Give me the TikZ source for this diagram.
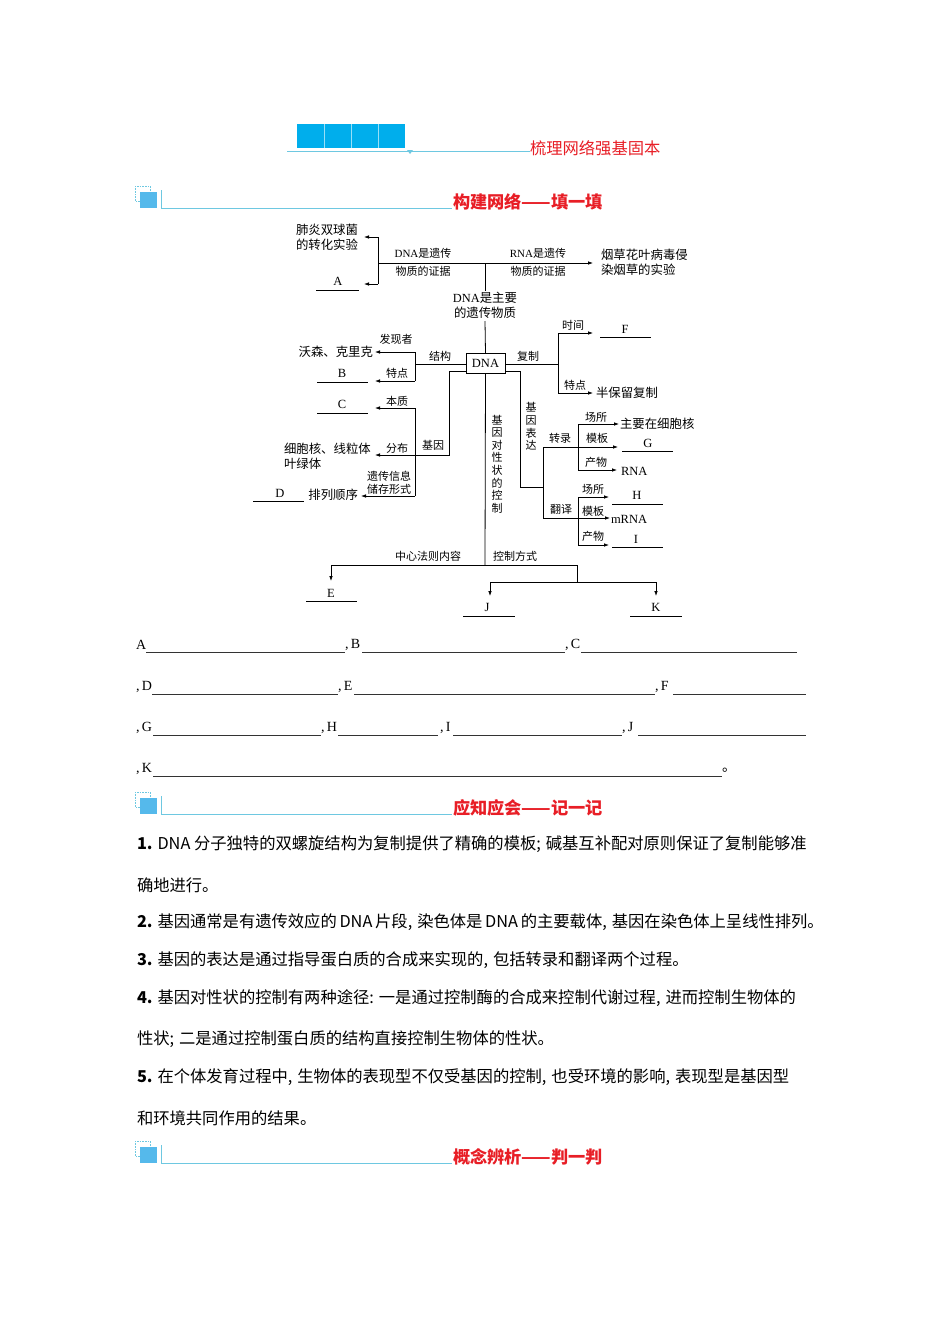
\documentclass[tikz,border=0pt]{standalone}
\usepackage{fontspec}
\setmainfont{Liberation Serif}
\newfontfamily\cjk{Noto Sans CJK SC}
\usetikzlibrary{arrows.meta}
\definecolor{hred}{RGB}{232,30,38}
\definecolor{hblue}{RGB}{0,174,236}
\definecolor{hline}{RGB}{110,200,225}
\definecolor{iconblue}{RGB}{85,185,235}
\newcommand{\mysechead}[3]{%
  \draw[hline,line width=0.6pt,densely dotted] (135,#1-16) rectangle (150,#1-1);
  \fill[iconblue] (140,#1-10) rectangle (157,#1+6);
  \draw[hline,line width=0.9pt] (161,#1-12) -- (161,#1+6) -- (452,#1+6);
  \node[sechead,anchor=west] (#2) at (453,#1) {#3};
}
\newcommand{\pc}{,\hspace{5pt}}
\begin{document}
\begin{tikzpicture}[x=1pt,y=-1pt,
  every node/.style={inner sep=0pt,outer sep=0pt},
  big/.style={font=\cjk\fontsize{12.4}{15}\selectfont},
  lab/.style={font=\cjk\fontsize{11}{13}\selectfont},
  vlab/.style={font=\cjk\fontsize{11}{12.6}\selectfont,align=center},
  letter/.style={font=\rmfamily\fontsize{12.5}{14}\selectfont},
  fillin/.style={font=\rmfamily\fontsize{14}{16}\selectfont,anchor=west},
  body/.style={font=\cjk\fontsize{16.3}{19}\selectfont,anchor=west},
  sechead/.style={font=\cjk\bfseries\fontsize{17.2}{19}\selectfont,text=hred},
  ln/.style={line width=0.8pt},
  ul/.style={line width=0.8pt},
  arr/.style={line width=0.8pt,-{Latex[length=5pt,width=3.6pt]}},
  fl/.style={line width=0.6pt,black!80}]
\useasboundingbox (0,0) rectangle (950,1344);
\fill[white] (0,0) rectangle (950,1344);

% ---------- top banner ----------
\fill[hblue] (297,124) rectangle (405,148);
\foreach \xx in {324,351,378} \draw[white!60!hblue,line width=0.6pt] (\xx,124) -- (\xx,148);
\draw[hline,line width=0.8pt] (287,151) -- (530,151);
\fill[hline] (407,150) -- (413,150) -- (410,154) -- cycle;
\node[anchor=west,font=\cjk\fontsize{16.3}{19}\selectfont,text=hred] (ttl) at (530,148) {梳理网络强基固本};

\mysechead{202}{s1}{构建网络——填一填}

% ---------- diagram: top ----------
\node[big,align=center] (fy) at (327,237.5) {肺炎双球菌\\的转化实验};
\node[letter] (A) at (338,281) {A};
\coordinate (ulA1) at (316,290); \coordinate (ulA2) at (359,290);
\draw[ul] (ulA1) -- (ulA2);
\coordinate (t1) at (378,237); \coordinate (t2) at (378,284);
\coordinate (a1) at (364,237); \coordinate (a2) at (364,284);
\coordinate (m0) at (378,263); \coordinate (m1) at (593,263);
\coordinate (mj) at (485,263); \coordinate (mj2) at (485,291);
\draw[ln] (t1) -- (t2);
\draw[arr] (t1) -- (a1);
\draw[arr] (t2) -- (a2);
\draw[arr] (m0) -- (m1);
\draw[ln] (mj) -- (mj2);
\node[lab] (d1a) at (423,253) {{\rmfamily DNA}是遗传};
\node[lab] (d1b) at (423,271) {物质的证据};
\node[lab] (r1a) at (538,253) {{\rmfamily RNA}是遗传};
\node[lab] (r1b) at (538,271) {物质的证据};
\node[big,align=left,anchor=west] (yan) at (601,262.5) {烟草花叶病毒侵\\染烟草的实验};
\node[big,align=center] (zy) at (485,305.5) {{\rmfamily DNA}是主要\\的遗传物质};

% ---------- DNA box ----------
\node[draw,line width=0.8pt,minimum width=39pt,minimum height=20pt,font=\rmfamily\fontsize{12.5}{14}\selectfont] (dna) at (485.5,363) {DNA};
\draw[ln] (zy.south |- 0,321) -- (dna.north);

% ---------- structure (left) ----------
\coordinate (sL) at (415,364);
\coordinate (sL1) at (415,352); \coordinate (sL2) at (415,381);
\coordinate (sA1) at (375,352); \coordinate (sA2) at (375,381);
\draw[ln] (dna.west |- sL) -- (sL);
\draw[ln] (sL1) -- (sL2);
\draw[arr] (sL1) -- (sA1);
\draw[arr] (sL2) -- (sA2);
\node[lab] (jg) at (440,356) {结构};
\node[lab] (fxz) at (396,339) {发现者};
\node[lab] (td1) at (397,373) {特点};
\node[big,anchor=east] (wk) at (373,352) {沃森、克里克};
\node[letter] (B) at (342,373) {B};
\draw[ul] (317,382) -- (368,382);

% ---------- replication (right) ----------
\coordinate (sR) at (558,364);
\coordinate (sR1) at (558,333); \coordinate (sR2) at (558,393);
\coordinate (rA1) at (593,333); \coordinate (rA2) at (593,393);
\draw[ln] (dna.east |- sR) -- (sR);
\draw[ln] (sR1) -- (sR2);
\draw[arr] (sR1) -- (rA1);
\draw[arr] (sR2) -- (rA2);
\node[lab] (fz) at (528,356) {复制};
\node[lab] (sj) at (573,325) {时间};
\node[letter] (F) at (625,329) {F};
\draw[ul] (600,337) -- (651,337);
\node[lab] (td2) at (575,385) {特点};
\node[big,anchor=west] (bbl) at (596,393) {半保留复制};

% ---------- gene (lower left) ----------
\coordinate (g0) at (449,371); \coordinate (g1) at (449,455); \coordinate (g2) at (415,455);
\coordinate (gv1) at (415,408); \coordinate (gv2) at (415,496);
\coordinate (gA1) at (375,408); \coordinate (gA2) at (375,455); \coordinate (gA3) at (361,496);
\draw[ln] (dna.west |- g0) -- (g0) -- (g1) -- (g2);
\draw[ln] (gv1) -- (gv2);
\draw[arr] (gv1) -- (gA1);
\draw[arr] (g2) -- (gA2);
\draw[arr] (gv2) -- (gA3);
\node[lab] (jy) at (433,445) {基因};
\node[lab] (bz) at (397,401) {本质};
\node[letter] (C) at (342,404) {C};
\draw[ul] (317,413) -- (368,413);
\node[lab] (fb) at (397,448) {分布};
\node[big,align=left,anchor=west] (xbh) at (284,456) {细胞核、线粒体\\叶绿体};
\node[lab,align=center] (ycxx) at (389,482.5) {遗传信息\\储存形式};
\node[big,anchor=east] (plsx) at (358,495) {排列顺序};
\node[letter] (D) at (280,493) {D};
\draw[ul] (253,501) -- (304,501);

% ---------- center ----------
\coordinate (c1) at (485,565);
\draw[ln] (dna.south) -- (c1);
\node[vlab] (jydx) at (497,464) {基\\因\\对\\性\\状\\的\\控\\制};

% ---------- expression (right lower) ----------
\coordinate (e0) at (520,371); \coordinate (e1) at (520,487); \coordinate (e2) at (543,487);
\coordinate (ev1) at (543,447); \coordinate (ev2) at (543,518);
\draw[ln] (dna.east |- e0) -- (e0) -- (e1) -- (e2);
\draw[ln] (ev1) -- (ev2);
\node[vlab] (jybd) at (531,426.5) {基\\因\\表\\达};
\node[lab] (zl) at (560,438) {转录};
\node[lab] (fy2) at (561,509) {翻译};
% transcription
\coordinate (tv1) at (578,424); \coordinate (tv2) at (578,470);
\coordinate (tA1) at (619,424); \coordinate (tA2) at (618,447); \coordinate (tA3) at (617,470);
\draw[ln] (tv1) -- (tv2);
\draw[arr] (tv1) -- (tA1);
\draw[arr] (ev1) -- (tA2);
\draw[arr] (tv2) -- (tA3);
\node[lab] (cs1) at (596,417) {场所};
\node[big,anchor=west] (xbh2) at (620,424) {主要在细胞核};
\node[lab] (mb1) at (597,438) {模板};
\node[letter] (G) at (648,443) {G};
\draw[ul] (622,451) -- (673,451);
\node[lab] (cw1) at (596,462) {产物};
\node[letter,anchor=west] (rna) at (621,471) {RNA};
% translation
\coordinate (uv1) at (578,497); \coordinate (uv2) at (578,545);
\coordinate (uA1) at (609,497); \coordinate (uA2) at (610,518); \coordinate (uA3) at (609,545);
\draw[ln] (uv1) -- (uv2);
\draw[arr] (uv1) -- (uA1);
\draw[arr] (ev2) -- (uA2);
\draw[arr] (uv2) -- (uA3);
\node[lab] (cs2) at (593,489) {场所};
\node[letter] (H) at (637,495) {H};
\draw[ul] (612,504) -- (663,504);
\node[lab] (mb2) at (593,511) {模板};
\node[letter,anchor=west] (mrna) at (611,519) {mRNA};
\node[lab] (cw2) at (593,536) {产物};
\node[letter] (I) at (636,539) {I};
\draw[ul] (612,547) -- (663,547);

% ---------- bottom ----------
\coordinate (b0) at (331,565); \coordinate (b1) at (577,565);
\coordinate (bE) at (331,581);
\coordinate (b2) at (577,582); \coordinate (b3) at (490,582); \coordinate (b4) at (656,582);
\coordinate (bJ) at (490,596); \coordinate (bK) at (656,596);
\draw[ln] (b0) -- (b1);
\draw[arr] (b0) -- (bE);
\draw[ln] (b1) -- (b2);
\draw[ln] (b3) -- (b4);
\draw[arr] (b3) -- (bJ);
\draw[arr] (b4) -- (bK);
\node[lab] (zxfz) at (428,556) {中心法则内容};
\node[lab] (kzfs) at (515,556) {控制方式};
\node[letter] (E) at (331,593) {E};
\draw[ul] (306,601) -- (357,601);
\node[letter] (J) at (487,607) {J};
\draw[ul] (463,616) -- (515,616);
\node[letter] (K) at (656,607) {K};
\draw[ul] (630,616) -- (682,616);

% ---------- fill-in rows ----------
\node[fillin] (fa) at (136,645) {A};
\draw[fl] (146,652) -- (345,652);
\node[fillin] (fb2) at (345,645) {,\,B};
\draw[fl] (362,652) -- (565,652);
\node[fillin] (fc) at (565,645) {,\,C};
\draw[fl] (581,652) -- (797,652);
\node[fillin] (fd) at (136,687) {,\,D};
\draw[fl] (152,694) -- (338,694);
\node[fillin] (fe) at (338,687) {,\,E};
\draw[fl] (354,694) -- (655,694);
\node[fillin] (ff) at (655,687) {,\,F};
\draw[fl] (673,694) -- (806,694);
\node[fillin] (fg) at (136,728) {,\,G};
\draw[fl] (153,735) -- (321,735);
\node[fillin] (fh) at (321,728) {,\,H};
\draw[fl] (338,735) -- (438,735);
\node[fillin] (fi) at (440,728) {,\,I};
\draw[fl] (453,735) -- (622,735);
\node[fillin] (fj) at (622,728) {,\,J};
\draw[fl] (638,735) -- (806,735);
\node[fillin] (fk) at (136,769) {,\,K};
\draw[fl] (153,776) -- (722,776);
\node[fillin,font=\cjk\fontsize{14}{16}\selectfont] (fend) at (722,770) {。};

% ---------- section 2 ----------
\mysechead{808}{s2}{应知应会——记一记}
\node[body] (p1a) at (137,844) {{\bfseries 1.} DNA 分子独特的双螺旋结构为复制提供了精确的模板;\hspace{5pt}碱基互补配对原则保证了复制能够准};
\node[body] (p1b) at (137,885) {确地进行。};
\node[body] (p2) at (137,922) {{\bfseries 2.} 基因通常是有遗传效应的\,DNA\,片段\pc 染色体是\,DNA\,的主要载体\pc 基因在染色体上呈线性排列。};
\node[body] (p3) at (137,960) {{\bfseries 3.} 基因的表达是通过指导蛋白质的合成来实现的\pc 包括转录和翻译两个过程。};
\node[body] (p4a) at (137,998) {{\bfseries 4.} 基因对性状的控制有两种途径:\hspace{5pt}一是通过控制酶的合成来控制代谢过程\pc 进而控制生物体的};
\node[body] (p4b) at (137,1039) {性状;\hspace{5pt}二是通过控制蛋白质的结构直接控制生物体的性状。};
\node[body] (p5a) at (137,1077) {{\bfseries 5.} 在个体发育过程中\pc 生物体的表现型不仅受基因的控制\pc 也受环境的影响\pc 表现型是基因型};
\node[body] (p5b) at (137,1118) {和环境共同作用的结果。};

% ---------- section 3 ----------
\mysechead{1157}{s3}{概念辨析——判一判}
\end{tikzpicture}
\end{document}
